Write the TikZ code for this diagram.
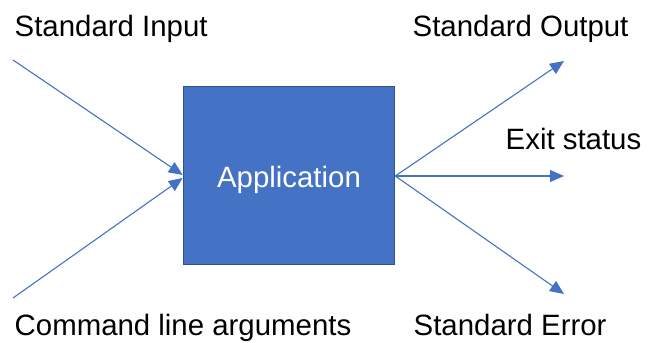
\documentclass[tikz,border=0pt]{standalone}
\usepackage{fontspec}
\setmainfont{Liberation Sans}
\usetikzlibrary{arrows.meta}
\definecolor{appblue}{HTML}{4472C4}
\definecolor{appedge}{HTML}{2F528F}
\tikzset{
  lbl/.style={anchor=base west, inner sep=0pt, font=\fontsize{29.4}{34}\selectfont, text=black},
  appbox/.style={draw=appedge, line width=1.6pt, fill=appblue, minimum width=211pt, minimum height=178pt, inner sep=0pt},
  flow/.style={draw=appblue, line width=1.1pt, -{Triangle[length=14pt,width=12pt]}}
}
\begin{document}
\begin{tikzpicture}[x=1pt,y=-1pt]
\useasboundingbox (0,0) rectangle (649,343);
\node[appbox] (app) at (289,175.5) {};
\node[anchor=base, inner sep=0pt, text=white, font=\fontsize{29.4}{34}\selectfont] (apptext) at (289,187) {Application};
\node[lbl] (tin) at (14.5,36) {Standard Input};
\node[lbl] (tout) at (412.5,36) {Standard Output};
\node[lbl] (texit) at (505.5,149) {Exit status};
\node[lbl] (tcmd) at (14.5,335) {Command line arguments};
\node[lbl] (terr) at (413.5,335) {Standard Error};
\coordinate (in1) at (13,60);
\coordinate (in2) at (13,298);
\coordinate (out1) at (564,61);
\coordinate (out2) at (564,176);
\coordinate (out3) at (564,294);
\draw[flow] (in1) -- ([yshift=0.5pt]app.west);
\draw[flow] (in2) -- ([yshift=-2.5pt]app.west);
\draw[flow] ([yshift=-0.5pt]app.east) -- (out1);
\draw[flow] ([yshift=-0.5pt]app.east) -- (out2);
\draw[flow] ([yshift=-0.5pt]app.east) -- (out3);
\end{tikzpicture}
\end{document}
